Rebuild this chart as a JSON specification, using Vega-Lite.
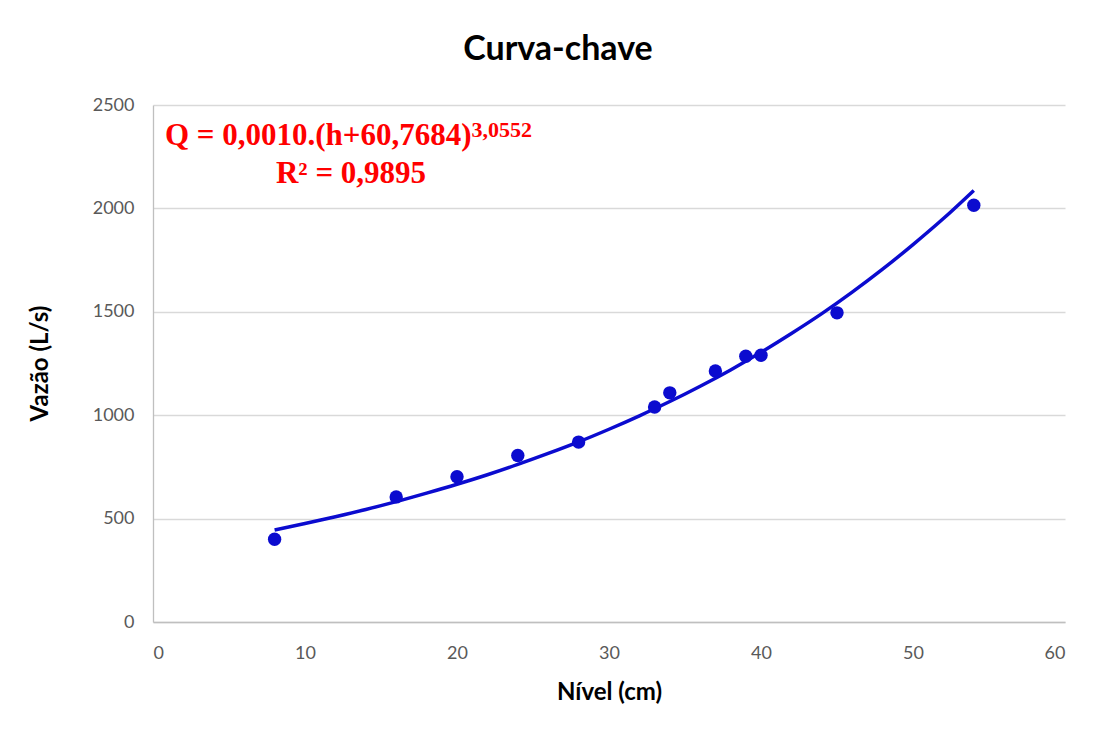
{
  "$schema": "https://vega.github.io/schema/vega-lite/v6.json",
  "width": 912,
  "height": 517,
  "autosize": {"type": "none"},
  "padding": {"left": 153, "top": 105, "right": 38, "bottom": 116},
  "background": "white",
  "config": {
    "view": {"stroke": null},
    "font": "Lato"
  },
  "title": {
    "text": "Curva-chave",
    "font": "Lato",
    "fontSize": 34,
    "fontWeight": "bold",
    "color": "#000000",
    "anchor": "middle",
    "frame": "group",
    "baseline": "alphabetic",
    "offset": 2,
    "dx": -51
  },
  "datasets": {
    "medicoes": [
      {"nivel": 8, "vazao": 400},
      {"nivel": 16, "vazao": 605},
      {"nivel": 20, "vazao": 702},
      {"nivel": 24, "vazao": 805},
      {"nivel": 28, "vazao": 870},
      {"nivel": 33, "vazao": 1040},
      {"nivel": 34, "vazao": 1108},
      {"nivel": 37, "vazao": 1214},
      {"nivel": 39, "vazao": 1285},
      {"nivel": 40, "vazao": 1290},
      {"nivel": 45, "vazao": 1495},
      {"nivel": 54, "vazao": 2015}
    ],
    "curva": [
      {"nivel": 8, "vazao": 445},
      {"nivel": 10, "vazao": 476},
      {"nivel": 12, "vazao": 509},
      {"nivel": 14, "vazao": 544},
      {"nivel": 16, "vazao": 582},
      {"nivel": 18, "vazao": 623},
      {"nivel": 20, "vazao": 666},
      {"nivel": 22, "vazao": 712},
      {"nivel": 24, "vazao": 762},
      {"nivel": 26, "vazao": 815},
      {"nivel": 28, "vazao": 871},
      {"nivel": 30, "vazao": 932},
      {"nivel": 32, "vazao": 997},
      {"nivel": 34, "vazao": 1066},
      {"nivel": 36, "vazao": 1140},
      {"nivel": 38, "vazao": 1219},
      {"nivel": 40, "vazao": 1304},
      {"nivel": 42, "vazao": 1395},
      {"nivel": 44, "vazao": 1491},
      {"nivel": 46, "vazao": 1595},
      {"nivel": 48, "vazao": 1706},
      {"nivel": 50, "vazao": 1825},
      {"nivel": 52, "vazao": 1951},
      {"nivel": 54, "vazao": 2087}
    ],
    "equacao": [{"nivel": 0.79, "vazao": 2307, "texto": "Q = 0,0010.(h+60,7684)"}],
    "expoente": [{"nivel": 20.95, "vazao": 2347, "texto": "3,0552"}],
    "r2": [{"nivel": 8.09, "vazao": 2124, "texto": "R² = 0,9895"}]
  },
  "encoding": {
    "x": {
      "field": "nivel",
      "type": "quantitative",
      "scale": {"domain": [0, 60], "nice": false, "zero": true},
      "axis": {
        "title": "Nível (cm)",
        "values": [0, 10, 20, 30, 40, 50, 60],
        "format": "d",
        "grid": false,
        "ticks": false,
        "domain": true,
        "domainColor": "#bfbfbf",
        "domainWidth": 1.3,
        "labelFont": "Lato",
        "labelFontSize": 18,
        "labelColor": "#595959",
        "labelPadding": 22,
        "labelBaseline": "top",
        "titleFont": "Lato",
        "titleFontSize": 24,
        "titleFontWeight": "bold",
        "titleColor": "#000000",
        "titleX": 456,
        "titleY": 70,
        "titleAlign": "center",
        "titleBaseline": "middle"
      }
    },
    "y": {
      "field": "vazao",
      "type": "quantitative",
      "scale": {"domain": [0, 2500], "nice": false},
      "axis": {
        "title": "Vazão (L/s)",
        "values": [0, 500, 1000, 1500, 2000, 2500],
        "format": "d",
        "grid": true,
        "gridColor": "#d9d9d9",
        "gridWidth": 1.3,
        "ticks": false,
        "domain": true,
        "domainColor": "#bfbfbf",
        "domainWidth": 1.3,
        "labelFont": "Lato",
        "labelFontSize": 18,
        "labelColor": "#595959",
        "labelPadding": 19,
        "titleFont": "Lato",
        "titleFontSize": 24,
        "titleFontWeight": "bold",
        "titleColor": "#000000",
        "titleAngle": -90,
        "titleX": -113,
        "titleY": 258,
        "titleAlign": "center",
        "titleBaseline": "middle"
      }
    }
  },
  "layer": [
    {
      "data": {"name": "curva"},
      "mark": {"type": "line", "color": "#0b0bcf", "strokeWidth": 3.5, "interpolate": "monotone"}
    },
    {
      "data": {"name": "medicoes"},
      "mark": {"type": "circle", "color": "#0b0bcf", "size": 180, "opacity": 1}
    },
    {
      "data": {"name": "equacao"},
      "mark": {"type": "text", "font": "Liberation Serif", "fontSize": 31, "fontWeight": "bold", "color": "#ff0000", "align": "left", "baseline": "alphabetic"},
      "encoding": {"text": {"field": "texto"}}
    },
    {
      "data": {"name": "expoente"},
      "mark": {"type": "text", "font": "Liberation Serif", "fontSize": 22, "fontWeight": "bold", "color": "#ff0000", "align": "left", "baseline": "alphabetic"},
      "encoding": {"text": {"field": "texto"}}
    },
    {
      "data": {"name": "r2"},
      "mark": {"type": "text", "font": "Liberation Serif", "fontSize": 31, "fontWeight": "bold", "color": "#ff0000", "align": "left", "baseline": "alphabetic"},
      "encoding": {"text": {"field": "texto"}}
    }
  ]
}
